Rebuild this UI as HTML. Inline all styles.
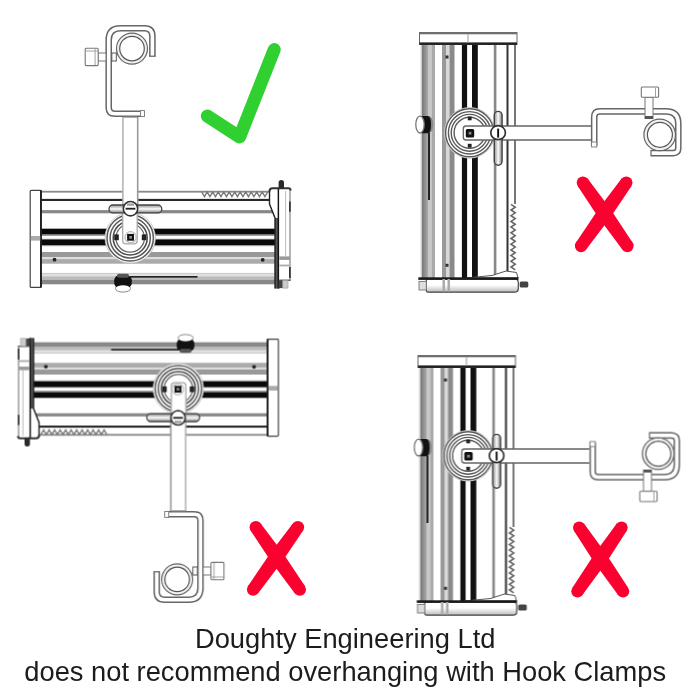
<!DOCTYPE html>
<html><head><meta charset="utf-8">
<style>
html,body{margin:0;padding:0;background:#fff;}
body{width:700px;height:700px;overflow:hidden;position:relative;}
svg{position:absolute;left:0;top:0;}
.art{filter:blur(0.35px);}
.txt{filter:blur(0.25px);}
</style></head>
<body>
<svg width="700" height="700" viewBox="0 0 700 700">
<defs>
<linearGradient id="capg" x1="0" y1="0" x2="0" y2="1">
  <stop offset="0" stop-color="#999"/><stop offset="0.3" stop-color="#ccc"/><stop offset="0.5" stop-color="#fff"/><stop offset="0.75" stop-color="#bbb"/><stop offset="1" stop-color="#888"/>
</linearGradient>
<linearGradient id="vbl" x1="0" y1="0" x2="1" y2="0">
  <stop offset="0" stop-color="#777"/><stop offset="1" stop-color="#aaa"/>
</linearGradient>
<linearGradient id="capb" x1="0" y1="0" x2="0" y2="1">
  <stop offset="0" stop-color="#fff"/><stop offset="0.45" stop-color="#fff"/><stop offset="1" stop-color="#bbb"/>
</linearGradient>
<linearGradient id="capv" x1="0" y1="0" x2="1" y2="0">
  <stop offset="0" stop-color="#999"/><stop offset="0.3" stop-color="#ccc"/><stop offset="0.5" stop-color="#fff"/><stop offset="0.75" stop-color="#bbb"/><stop offset="1" stop-color="#888"/>
</linearGradient>
<!-- ===== Horizontal lamp (top-left) ===== -->
<g id="hl">
  <!-- body bands -->
  <rect x="41" y="191" width="236" height="94" fill="#fff"/>
  <rect x="41" y="190.8" width="229" height="1.8" fill="#888"/>
  <rect x="41" y="198.5" width="229" height="0.8" fill="#ccc"/>
  <rect x="41" y="199.1" width="229" height="1.8" fill="#111"/>
  <rect x="41" y="210.1" width="234" height="3.2" fill="#888"/>
  <rect x="41" y="228.4" width="234" height="0.9" fill="#777"/>
  <rect x="41" y="229" width="234" height="5.6" fill="#0a0a0a"/>
  <rect x="41" y="234.6" width="234" height="1.2" fill="#888"/>
  <rect x="41" y="238.8" width="234" height="1" fill="#888"/>
  <rect x="41" y="239.6" width="234" height="5.4" fill="#0a0a0a"/>
  <rect x="41" y="245" width="234" height="1.2" fill="#999"/>
  <rect x="41" y="252" width="234" height="5.3" fill="#999"/>
  <rect x="41" y="257.3" width="234" height="1.8" fill="#ddd"/>
  <rect x="41" y="259.1" width="234" height="4.6" fill="#aaa"/>
  <rect x="41" y="272.9" width="234" height="1.1" fill="#ccc"/>
  <rect x="41" y="274" width="234" height="2.3" fill="#e0e0e0"/>
  <rect x="41" y="276.3" width="234" height="3.4" fill="#bbb"/>
  <rect x="130" y="276.1" width="67.5" height="1.5" fill="#111"/>
  <rect x="41" y="279.7" width="234" height="4.6" fill="#888"/>
  <!-- zigzag -->
  <polyline class="zz" points="201.70,192.0 204.45,196.6 207.20,192.0 209.95,196.6 212.70,192.0 215.45,196.6 218.20,192.0 220.95,196.6 223.70,192.0 226.45,196.6 229.20,192.0 231.95,196.6 234.70,192.0 237.45,196.6 240.20,192.0 242.95,196.6 245.70,192.0 248.45,196.6 251.20,192.0 253.95,196.6 256.70,192.0 259.45,196.6 262.20,192.0 264.95,196.6 267.70,192.0" fill="none" stroke="#777" stroke-width="1.4"/>
  <!-- dots -->
  <circle cx="54.5" cy="259.7" r="1.9" fill="#222"/>
  <circle cx="262.7" cy="259.8" r="1.9" fill="#222"/>
  <!-- left cap -->
  <rect x="30.2" y="190.4" width="11" height="97" rx="1" fill="#fff" stroke="#444" stroke-width="1.2"/>
  <line x1="40.9" y1="190.2" x2="40.9" y2="287.6" stroke="#111" stroke-width="1.6"/>
  <rect x="30.8" y="236" width="9.4" height="4.6" fill="#aaa"/>
  <!-- right cap -->
  <path d="M269.5,190 L269.5,204 L275,218 L275,288.6 L278.6,288.6 L278.6,190 Z" fill="#fff"/>
  <path d="M275,218 L275,288.6 L278.6,288.6 L278.6,218 Z" fill="#555"/>
  <path d="M269.5,190.5 L269.5,204 L275,218 L275,288.6" fill="none" stroke="#222" stroke-width="1.4"/>
  <line x1="278.5" y1="189" x2="278.5" y2="288.6" stroke="#111" stroke-width="1.7"/>
  <rect x="279.3" y="189.4" width="11.3" height="91" fill="#fff"/>
  <line x1="285.6" y1="191" x2="285.6" y2="256" stroke="#bbb" stroke-width="1"/>
  <line x1="290" y1="190" x2="290" y2="280.4" stroke="#777" stroke-width="1.1"/>
  <line x1="289.9" y1="201.6" x2="289.9" y2="211.8" stroke="#222" stroke-width="1.5"/>
  <line x1="289.9" y1="267" x2="289.9" y2="278" stroke="#222" stroke-width="1.5"/>
  <path d="M269.5,191.4 Q269.5,188.2 272.5,188.2 L288.4,188.2 Q290.6,188.2 290.6,190.4" fill="none" stroke="#333" stroke-width="2"/>
  <rect x="279.3" y="256.4" width="10.6" height="3.5" fill="#999"/>
  <rect x="279.3" y="264.6" width="10.6" height="1.8" fill="#aaa"/>
  <rect x="279.3" y="279.6" width="11.3" height="1.2" fill="#444"/>
  <rect x="278.6" y="280.4" width="4.2" height="7.7" fill="#444"/>
  <rect x="282.8" y="280.4" width="5.2" height="7.7" fill="#ccc" stroke="#999" stroke-width="0.6"/>
  <path d="M278.6,188.2 L278.6,182.5 Q278.6,180 281.3,180 Q284,180 284,182.5 L284,188.2 Z" fill="#2a2a2a"/>
  <!-- rod -->
  <rect x="123" y="114.5" width="14.6" height="93.5" fill="#fff"/>
  <line x1="122.9" y1="114.5" x2="122.9" y2="208" stroke="#aaa" stroke-width="1.4"/>
  <line x1="137.7" y1="114.5" x2="137.7" y2="208" stroke="#999" stroke-width="1.6"/>
  <!-- medallion -->
  <circle cx="130.2" cy="237.9" r="25.2" fill="#fff" stroke="#bbb" stroke-width="0.8"/>
  <circle cx="130.2" cy="237.9" r="23.2" fill="none" stroke="#5a5a5a" stroke-width="1.5"/>
  <circle cx="130.2" cy="237.9" r="20.1" fill="none" stroke="#5a5a5a" stroke-width="1.5"/>
  <circle cx="130.2" cy="237.9" r="17" fill="none" stroke="#4a4a4a" stroke-width="1.5"/>
  <circle cx="130.2" cy="237.9" r="14.2" fill="none" stroke="#666" stroke-width="1.3"/>
  <rect x="114.2" y="234.4" width="4.6" height="5.8" fill="#222"/>
  <rect x="141.8" y="234.4" width="4.6" height="5.8" fill="#222"/>
  <!-- rod inside medallion (U) -->
  <path d="M122.7,212 L122.7,240.8 Q122.7,243.8 125.7,243.8 L134.2,243.8 Q137.2,243.8 137.2,240.8 L137.2,212" fill="#fff" stroke="#aaa" stroke-width="1.3"/>
  <circle cx="130.6" cy="237.3" r="5.6" fill="none" stroke="#bbb" stroke-width="1.2"/>
  <rect x="127.1" y="233.9" width="6.9" height="6.8" fill="#111"/>
  <rect x="129.2" y="236" width="2.8" height="2.7" fill="#888"/>
  <!-- T handle -->
  <rect x="109" y="205" width="52.8" height="7.9" rx="3.95" fill="url(#capg)" stroke="#444" stroke-width="1.3"/>
  <circle cx="130.5" cy="208.7" r="7.2" fill="#fff" stroke="#333" stroke-width="1.6"/>
  <rect x="125.6" y="207.8" width="9.8" height="1.8" fill="#222"/>
  <rect x="127" y="203.5" width="7" height="2.2" fill="#999"/>
  <!-- bottom knob -->
  <ellipse cx="123" cy="288.5" rx="7.6" ry="3.6" fill="#fff" stroke="#888" stroke-width="1"/>
  <rect x="114.2" y="275.6" width="17.6" height="12" rx="4.5" fill="#111"/>
  <rect x="117" y="273.8" width="12" height="4" rx="2" fill="#555"/>
  <ellipse cx="123" cy="287.6" rx="6.6" ry="2.4" fill="#fff"/>
</g>
<g id="hlhook">
  <!-- hook clamp -->
  <path d="M143,113.7 L115,113.7 Q108.7,113.7 108.7,107.4 L108.7,40 Q108.7,28.2 120.5,28.2 L144.5,28.2 Q152.4,28.2 152.4,36 L152.4,56.5" fill="none" stroke="#666" stroke-width="6.6"/>
  <path d="M143,113.7 L115,113.7 Q108.7,113.7 108.7,107.4 L108.7,40 Q108.7,28.2 120.5,28.2 L144.5,28.2 Q152.4,28.2 152.4,36 L152.4,56.5" fill="none" stroke="#fff" stroke-width="3.6"/>
  <rect x="140.5" y="110.6" width="4" height="6" fill="#fff" stroke="#777" stroke-width="0.9"/>
  <line x1="149.2" y1="56.2" x2="155.6" y2="56.2" stroke="#666" stroke-width="1.2"/>
  <rect x="123.5" y="116" width="14.2" height="1.6" fill="#777"/>
  <circle cx="132" cy="48.6" r="15.5" fill="#f2f2f2" stroke="#666" stroke-width="1.2"/>
  <circle cx="132" cy="48.6" r="12.3" fill="#fff" stroke="#555" stroke-width="1.2"/>
  <!-- bolt -->
  <rect x="98" y="53" width="8" height="8" fill="#fff" stroke="#777" stroke-width="1"/>
  <rect x="85.2" y="48.3" width="13" height="17.3" rx="1" fill="#fff" stroke="#777" stroke-width="1.1"/>
  <line x1="85.5" y1="51" x2="98" y2="51" stroke="#999" stroke-width="0.9"/>
  <line x1="95.1" y1="49" x2="95.1" y2="65" stroke="#999" stroke-width="0.9"/>
  <rect x="111.8" y="53" width="4.5" height="8" fill="#fff" stroke="#555" stroke-width="1"/>
</g>

<!-- ===== Vertical lamp body (top-right) ===== -->
<g id="vb">
  <rect x="420" y="44" width="96" height="234" fill="#fff"/>
  <rect x="420.6" y="44" width="1.4" height="234" fill="#ccc"/>
  <rect x="422" y="44" width="6" height="234" fill="url(#vbl)"/>
  <rect x="428" y="44" width="3.5" height="234" fill="#c8c8c8"/>
  <rect x="428.1" y="132" width="1.8" height="68" fill="#111"/>
  <rect x="431.5" y="44" width="3.5" height="234" fill="#aaa"/>
  <rect x="442" y="44" width="4" height="234" fill="#999"/>
  <rect x="446" y="44" width="3.5" height="234" fill="#d8d8d8"/>
  <rect x="449.5" y="44" width="5" height="234" fill="#8a8a8a"/>
  <rect x="461.9" y="44" width="5.2" height="234" fill="#111"/>
  <rect x="472" y="44" width="5.8" height="234" fill="#111"/>
  <rect x="493.8" y="44" width="2.6" height="234" fill="#888"/>
  <rect x="506.5" y="44" width="2" height="234" fill="#333"/>
  <rect x="514" y="44" width="2" height="160" fill="#777"/>
  <!-- zigzag right -->
  <polyline points="511.0,204.30 515.2,207.15 511.0,210.00 515.2,212.85 511.0,215.70 515.2,218.55 511.0,221.40 515.2,224.25 511.0,227.10 515.2,229.95 511.0,232.80 515.2,235.65 511.0,238.50 515.2,241.35 511.0,244.20 515.2,247.05 511.0,249.90 515.2,252.75 511.0,255.60 515.2,258.45 511.0,261.30 515.2,264.15 511.0,267.00 515.2,269.85" fill="none" stroke="#666" stroke-width="1.6"/>
  <!-- bottom bevel -->
  <path d="M466,278 L492,275.5 L506,271 L516.5,272.5 L518,278 Z" fill="#fff" stroke="#555" stroke-width="1"/>
  <!-- dots -->
  <rect x="445.5" y="55.5" width="3" height="3" fill="#333"/>
  <rect x="445.5" y="263.8" width="3" height="3" fill="#333"/>
  <!-- top cap -->
  <rect x="419.5" y="32.5" width="97.5" height="12" fill="#fff" stroke="#666" stroke-width="1"/>
  <rect x="419.5" y="32.2" width="97.5" height="2.1" fill="#707070"/>
  <rect x="419.5" y="42.4" width="97.5" height="2.5" fill="#222"/>
  <line x1="468" y1="34" x2="468" y2="42.5" stroke="#aaa" stroke-width="1.2"/>
  <!-- bottom cap -->
  <path d="M426.3,279 L514.5,279 Q518.3,279 518.3,282.5 L518.3,288.5 Q518.3,292.2 514.5,292.2 L428,292.2 Q426.3,292.2 426.3,290.4 Z" fill="url(#capb)" stroke="#444" stroke-width="1.2"/>
  <rect x="418.3" y="277.3" width="100.2" height="2.6" fill="#1a1a1a"/>
  <rect x="419" y="281.4" width="7.3" height="8.6" fill="#ddd" stroke="#777" stroke-width="0.9"/>
  <rect x="442.5" y="279" width="2.5" height="12.5" fill="#aaa"/>
  <rect x="447.5" y="279" width="2.5" height="12.5" fill="#aaa"/>
  <rect x="519.7" y="281.4" width="8.6" height="6" rx="1.5" fill="#444"/>
  <!-- left knob -->
  <path d="M422,116.2 L428.5,116.2 Q433.2,116.4 433.2,124.6 Q433.2,132.8 428.5,133 L422,133 Z" fill="#888"/>
  <path d="M421.5,116 L428,116 Q431,116.4 431,124.6 Q431,132.8 428,133.2 L421.5,133.2 Z" fill="#121212"/>
  <ellipse cx="420" cy="124.6" rx="4.2" ry="8.4" fill="#fff" stroke="#777" stroke-width="1.3"/>
  <ellipse cx="420.6" cy="124.6" rx="1.8" ry="5.5" fill="#fff"/>
  <!-- medallion -->
  <circle cx="469.6" cy="132.8" r="25.3" fill="#fff" stroke="#bbb" stroke-width="0.8"/>
  <circle cx="469.6" cy="132.8" r="24" fill="none" stroke="#5a5a5a" stroke-width="1.4"/>
  <circle cx="469.6" cy="132.8" r="21.2" fill="none" stroke="#5a5a5a" stroke-width="1.4"/>
  <circle cx="469.6" cy="132.8" r="18.4" fill="none" stroke="#5a5a5a" stroke-width="1.4"/>
  <circle cx="469.6" cy="132.8" r="15.5" fill="none" stroke="#5a5a5a" stroke-width="1.4"/>
  <rect x="467.8" y="116.5" width="3.8" height="3.8" fill="#222"/>
  <rect x="467.8" y="143.8" width="3.8" height="3.8" fill="#222"/>
</g>

<!-- arm for vertical lamp (without hook) -->
<g id="varm">
  <path d="M591,126 L466,126 Q463.3,126 463.3,128.7 L463.3,137.3 Q463.3,140 466,140 L591,140" fill="#fff" stroke="#666" stroke-width="1.3"/>
  <rect x="465.8" y="129" width="8.4" height="8.4" rx="1.5" fill="#111"/>
  <rect x="468.6" y="131.8" width="2.8" height="2.8" fill="#888"/>
  <rect x="494.3" y="111.4" width="7.8" height="53.8" rx="3.9" fill="url(#capv)" stroke="#444" stroke-width="1.4"/>
  <ellipse cx="498.1" cy="132.7" rx="7.3" ry="7" fill="#fff" stroke="#333" stroke-width="1.7"/>
  <rect x="497.2" y="128.6" width="1.9" height="9" fill="#111"/>
</g>

<!-- hook for vertical lamp -->
<g id="vhook">
  <path d="M594.2,146 L594.2,117 Q594.2,111.4 599.8,111.4 L666,111.4 Q678.3,111.4 678.3,123.7 L678.3,148 Q678.3,153.1 673.2,153.1 L651,153.1" fill="none" stroke="#666" stroke-width="6.6"/>
  <path d="M594.2,146 L594.2,117 Q594.2,111.4 599.8,111.4 L666,111.4 Q678.3,111.4 678.3,123.7 L678.3,148 Q678.3,153.1 673.2,153.1 L651,153.1" fill="none" stroke="#fff" stroke-width="3.6"/>
  <rect x="591.6" y="142" width="5.2" height="5" fill="#fff" stroke="#777" stroke-width="0.9"/>
  <line x1="651" y1="149.9" x2="651" y2="156.3" stroke="#666" stroke-width="1.2"/>
  <circle cx="659.7" cy="134.9" r="15.8" fill="#f2f2f2" stroke="#666" stroke-width="1.2"/>
  <circle cx="659.9" cy="134.8" r="12.5" fill="#fff" stroke="#555" stroke-width="1.2"/>
  <rect x="645" y="97.3" width="8" height="21.2" fill="#fff" stroke="#777" stroke-width="1"/>
  <rect x="645" y="116" width="8" height="3" fill="#555"/>
  <rect x="641.3" y="87" width="17.3" height="10.3" rx="1" fill="#fff" stroke="#777" stroke-width="1.1"/>
  <line x1="655.5" y1="87.5" x2="655.5" y2="97" stroke="#999" stroke-width="0.9"/>
</g>
</defs>
<g class="art">

<!-- top-left -->
<use href="#hl"/>
<use href="#hlhook"/>
<!-- bottom-left (rotated 180) -->
<use href="#hl" transform="rotate(180 154.3 313.3)"/>
<use href="#hlhook" transform="translate(0.6 1.4) rotate(180 154.3 313.3)"/>
<!-- top-right -->
<use href="#vb"/>
<use href="#varm"/>
<use href="#vhook"/>
<!-- bottom-right -->
<g transform="translate(-1.5 323)">
  <use href="#vb"/>
  <use href="#varm"/>
  <use href="#vhook" transform="translate(0 265.6) scale(1 -1)"/>
</g>

<!-- green check -->
<polyline points="207.3,116 239.6,137 274.2,49.6" fill="none" stroke="#2fd02f" stroke-width="13" stroke-linecap="round" stroke-linejoin="round"/>

<!-- red X's -->
<g fill="#fa0230">
  <polygon points="577.83,186.16 598.46,217.47 622.33,249.56 632.47,242.44 610.41,209.08 587.97,179.04"/>
  <circle cx="582.9" cy="182.6" r="6.2"/>
  <circle cx="627.4" cy="246" r="6.2"/>
  <polygon points="621.25,179.00 598.49,209.04 576.05,242.40 586.15,249.60 610.37,217.51 631.35,186.20"/>
  <circle cx="626.3" cy="182.6" r="6.2"/>
  <circle cx="581.1" cy="246" r="6.2"/>
  <polygon points="250.73,530.77 270.69,560.99 294.73,593.17 304.87,586.03 282.63,552.58 260.87,523.63"/>
  <circle cx="255.8" cy="527.2" r="6.2"/>
  <circle cx="299.8" cy="589.6" r="6.2"/>
  <polygon points="292.86,523.58 270.73,552.53 248.06,585.98 258.14,593.22 282.59,561.04 302.94,530.82"/>
  <circle cx="297.9" cy="527.2" r="6.2"/>
  <circle cx="253.1" cy="589.6" r="6.2"/>
  <polygon points="574.09,531.11 594.29,562.43 617.89,594.81 628.11,587.79 606.32,554.15 584.31,524.09"/>
  <circle cx="579.2" cy="527.6" r="6.2"/>
  <circle cx="623" cy="591.3" r="6.2"/>
  <polygon points="616.40,524.08 594.30,554.14 572.40,587.78 582.60,594.82 606.31,562.44 626.60,531.12"/>
  <circle cx="621.5" cy="527.6" r="6.2"/>
  <circle cx="577.5" cy="591.3" r="6.2"/>
</g>

</g>
<!-- text -->
<g class="txt" font-family="Liberation Sans, sans-serif" font-size="27.3" fill="#1c1c1c" text-anchor="middle">
  <text x="345.2" y="648">Doughty Engineering Ltd</text>
  <text x="345.2" y="681">does not recommend overhanging with Hook Clamps</text>
</g>
</svg>
</body></html>
